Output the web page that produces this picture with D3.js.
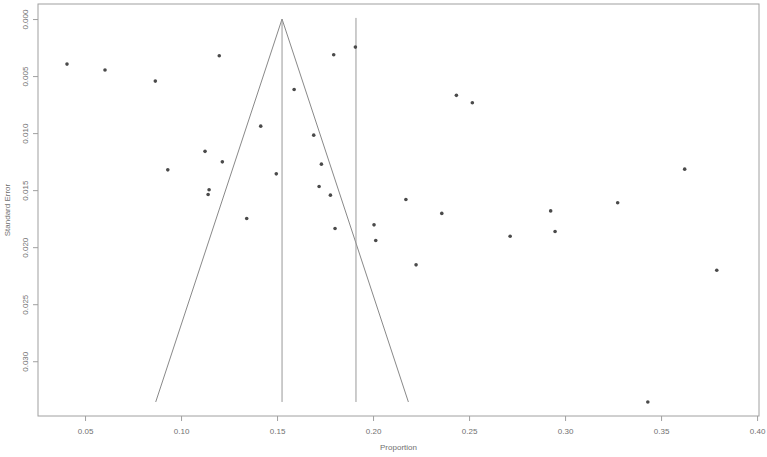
<!DOCTYPE html>
<html>
<head>
<meta charset="utf-8">
<script src="https://cdn.jsdelivr.net/npm/d3@7"></script>
<style>
  html, body { margin: 0; padding: 0; background: #fff; }
  svg { display: block; }
  text { font-family: "Liberation Sans", Arial, sans-serif; }
</style>
</head>
<body>
<svg id="chart" width="767" height="457"></svg>
<script>
// ---- data ----
const proportion = [0.0406, 0.0604, 0.0866, 0.1199, 0.1795, 0.1908, 0.1589, 0.1415, 0.1691, 0.1125,
  0.1215, 0.0931, 0.1496, 0.1731, 0.1146, 0.1141, 0.1719, 0.1778, 0.1342, 0.1802,
  0.2005, 0.2014, 0.2171, 0.2358, 0.2434, 0.2517, 0.2224, 0.2714, 0.2925, 0.2948,
  0.3274, 0.3623, 0.3790, 0.3431];
const standardError = [0.00395, 0.00447, 0.00544, 0.00322, 0.00313, 0.00246, 0.00617, 0.00939, 0.01018, 0.0116,
  0.01252, 0.01322, 0.01357, 0.01272, 0.01497, 0.01538, 0.01468, 0.01544, 0.01748, 0.01836,
  0.01804, 0.01941, 0.01582, 0.01704, 0.00669, 0.00734, 0.02155, 0.01904, 0.01682, 0.01862,
  0.01611, 0.01316, 0.02202, 0.03357];
const pooledEstimate = 0.1526;
const referenceLine = 0.1911;
const funnelZ = 1.96;
const xTicks = [0.05, 0.10, 0.15, 0.20, 0.25, 0.30, 0.35, 0.40];
const yTicks = [0.000, 0.005, 0.010, 0.015, 0.020, 0.025, 0.030];
const xTitle = "Proportion";
const yTitle = "Standard Error";

// ---- layout ----
const svg = d3.select("#chart");
const mLeft = 38, mRight = 759, mTop = 4, mBottom = 416;
const x = d3.scaleLinear().domain([0.0255, 0.401]).range([mLeft, mRight]);
const y = d3.scaleLinear().domain([-0.00132, 0.0348]).range([mTop, mBottom]);
const ink = "#707070";
const fontSize = 8;

// box
svg.append("rect")
  .attr("x", mLeft).attr("y", mTop)
  .attr("width", mRight - mLeft).attr("height", mBottom - mTop)
  .attr("fill", "none").attr("stroke", "#a0a0a0").attr("stroke-width", 1);

// x axis
const xAxis = svg.append("g")
  .attr("transform", `translate(0,${mBottom})`)
  .call(d3.axisBottom(x).tickValues(xTicks).tickFormat(d3.format(".2f")).tickSize(5).tickSizeOuter(0));
xAxis.select(".domain").remove();
xAxis.selectAll(".tick line").attr("stroke", "#a0a0a0");
xAxis.selectAll(".tick text").attr("fill", ink).attr("font-size", fontSize).attr("dy", "1.3em");

// y axis
const yAxis = svg.append("g")
  .attr("transform", `translate(${mLeft},0)`)
  .call(d3.axisLeft(y).tickValues(yTicks).tickFormat(d3.format(".3f")).tickSize(5).tickSizeOuter(0));
yAxis.select(".domain").remove();
yAxis.selectAll(".tick line").attr("stroke", "#a0a0a0");
yAxis.selectAll(".tick text")
  .attr("fill", ink).attr("font-size", fontSize)
  .attr("x", null).attr("dy", null)
  .attr("text-anchor", "middle")
  .attr("transform", "translate(-10,0) rotate(-90)");

// axis titles
svg.append("text")
  .attr("x", (mLeft + mRight) / 2).attr("y", 450)
  .attr("text-anchor", "middle").attr("font-size", fontSize).attr("fill", ink)
  .text(xTitle);
svg.append("text")
  .attr("transform", `translate(10,${(mTop + mBottom) / 2}) rotate(-90)`)
  .attr("text-anchor", "middle").attr("font-size", fontSize).attr("fill", ink)
  .text(yTitle);

// funnel
const seMax = d3.max(standardError);
const funnel = [
  [pooledEstimate - funnelZ * seMax, seMax],
  [pooledEstimate, 0],
  [pooledEstimate + funnelZ * seMax, seMax]
];
svg.append("path")
  .attr("d", d3.line().x(d => x(d[0])).y(d => y(d[1]))(funnel))
  .attr("fill", "none").attr("stroke", "#7a7a7a").attr("stroke-width", 0.9);

// vertical lines
svg.append("line")
  .attr("x1", x(pooledEstimate)).attr("x2", x(pooledEstimate))
  .attr("y1", y(0)).attr("y2", y(seMax))
  .attr("stroke", "#999").attr("stroke-width", 1);
svg.append("line")
  .attr("x1", x(referenceLine)).attr("x2", x(referenceLine))
  .attr("y1", y(-0.0001)).attr("y2", y(seMax))
  .attr("stroke", "#999").attr("stroke-width", 1);

// points
svg.append("g").selectAll("circle")
  .data(proportion.map((p, i) => [p, standardError[i]]))
  .join("circle")
  .attr("cx", d => x(d[0])).attr("cy", d => y(d[1]))
  .attr("r", 1.8).attr("fill", "#4a4a4a");
</script>
</body>
</html>
